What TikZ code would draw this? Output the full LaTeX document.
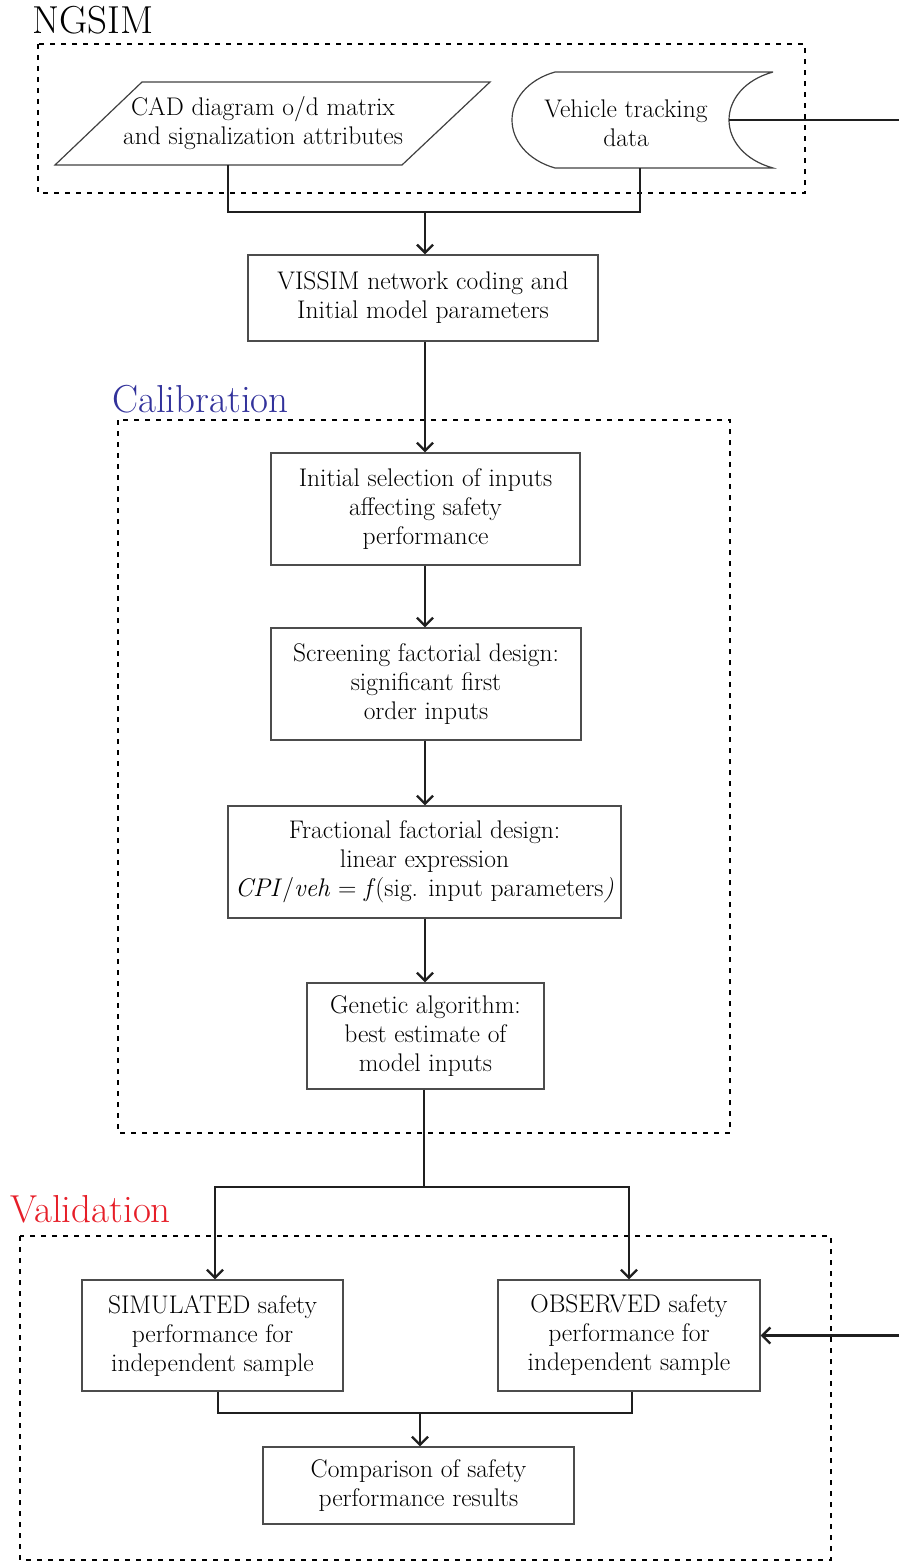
\documentclass[tikz,border=0pt]{standalone}
\usetikzlibrary{arrows.meta}
\definecolor{calblue}{RGB}{50,50,155}
\definecolor{valred}{RGB}{230,30,40}
\begin{document}
\begin{tikzpicture}[x=1pt,y=-1pt,
  box/.style={draw=black!70, line width=1.2pt, inner sep=0pt, align=center, font=\fontsize{25.5}{29}\selectfont},
  plain/.style={inner sep=0pt, align=center, font=\fontsize{25.5}{29}\selectfont},
  grp/.style={draw=black, line width=2.4pt, dash pattern=on 5pt off 6pt},
  shp/.style={draw=black!75, line width=1.2pt},
  conn/.style={draw=black!88, line width=2.6pt},
  arr/.style={conn, -{Straight Barb[length=8pt,width=16pt,line width=2.4pt]}},
  lbl/.style={font=\fontsize{39}{42}\selectfont, anchor=base west, inner sep=0pt}]

\useasboundingbox (0,0) rectangle (899,1562);

% ---------- NGSIM group ----------
\draw[grp] (38,44) rectangle (805,193);
\node[lbl] (ngsim) at (32,34) {NGSIM};

\draw[shp] (142,82) -- (490,82) -- (402,165) -- (55,165) -- cycle;
\node[plain] (cad) at (263,123.5) {CAD diagram o/d matrix\\and signalization attributes};
\coordinate (cadb) at (228,165);

\draw[shp] (773,72) -- (555,72) .. controls (527,80) and (512,100) .. (512,120)
  .. controls (512,140) and (527,160) .. (555,168) -- (773,168)
  .. controls (744,160) and (729,140) .. (729,120)
  .. controls (729,100) and (744,80) .. (773,72);
\node[plain] (veh) at (626,123.5) {Vehicle tracking\\data};
\coordinate (vehb) at (640,168);
\coordinate (vehr) at (729,120);
\coordinate (edge1) at (899,120);
\draw[conn] (vehr) -- (edge1);

\coordinate (j1) at (425,212);
\node[box, minimum width=350pt, minimum height=86pt] (vissim) at (423,298)
  {VISSIM network coding and\\Initial model parameters};
\draw[conn] (cadb) |- (j1) -| (vehb);
\draw[arr] (j1) -- (j1 |- vissim.north);

% ---------- Calibration group ----------
\draw[grp] (118,420) rectangle (730,1133);
\node[lbl, text=calblue] (cal) at (112,412) {Calibration};

\node[box, minimum width=309pt, minimum height=112pt] (b1) at (425.5,509)
  {Initial selection of inputs\\affecting safety\\performance};
\node[box, minimum width=310pt, minimum height=112pt] (b2) at (426,684)
  {Screening factorial design:\\significant first\\order inputs};
\node[box, minimum width=393pt, minimum height=112pt] (b3) at (424.5,862)
  {Fractional factorial design:\\linear expression\\\textit{CPI}/\textit{veh} = \textit{f}(sig. input parameters\textit{)}};
\node[box, minimum width=237pt, minimum height=106pt] (b4) at (425.5,1036)
  {Genetic algorithm:\\best estimate of\\model inputs};

\coordinate (x425) at (425,0);
\draw[arr] (vissim.south -| x425) -- (b1.north -| x425);
\draw[arr] (b1.south -| x425) -- (b2.north -| x425);
\draw[arr] (b2.south -| x425) -- (b3.north -| x425);
\draw[arr] (b3.south -| x425) -- (b4.north -| x425);

% ---------- Validation group ----------
\draw[grp] (20,1236) rectangle (831,1560);
\node[lbl, text=valred] (val) at (10,1222) {Validation};

\node[box, minimum width=261pt, minimum height=111pt] (sim) at (212.5,1335.5)
  {SIMULATED safety\\performance for\\independent sample};
\node[box, minimum width=262pt, minimum height=111pt] (obs) at (629,1335.5)
  {OBSERVED safety\\performance for\\independent sample};
\node[box, minimum width=311pt, minimum height=77pt] (comp) at (418.5,1485.5)
  {Comparison of safety\\performance results};

\coordinate (j2) at (424,1187);
\draw[conn] (b4.south -| j2) -- (j2);
\draw[arr] (j2) -| ([xshift=2.5pt]sim.north);
\draw[arr] (j2) -| (obs.north);

\coordinate (edge2) at (899,1335.5);
\draw[arr] (edge2) -- (obs.east);

\coordinate (j3) at (420,1413);
\draw[conn] ([xshift=5.5pt]sim.south) |- (j3) -| ([xshift=3pt]obs.south);
\draw[arr] (j3) -- (j3 |- comp.north);
\end{tikzpicture}
\end{document}
